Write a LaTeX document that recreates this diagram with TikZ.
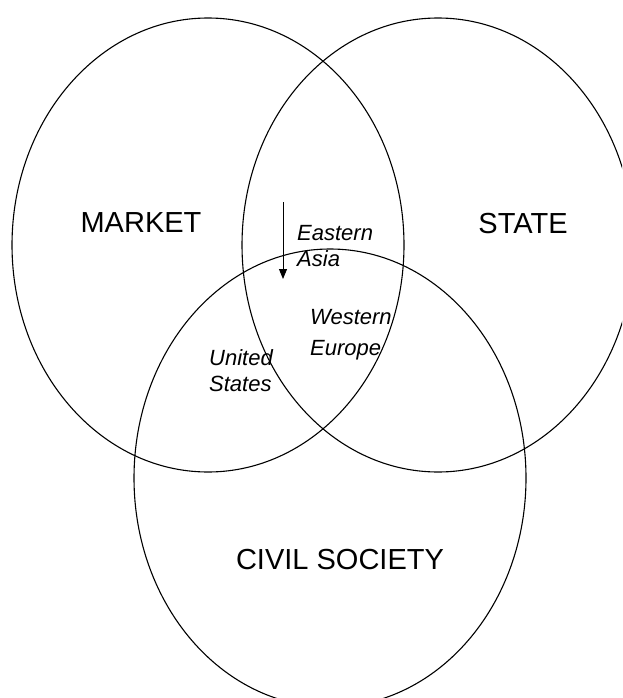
\documentclass[tikz,border=0pt]{standalone}
\usepackage{fontspec}
\setmainfont{Liberation Sans}
\usepackage{tikz}
\usetikzlibrary{shapes,arrows.meta,positioning,calc}

\tikzset{sector/.style={
    draw,
    ellipse,
    line width=1.1pt,
    inner sep=0pt,
    minimum width=392pt,
    minimum height=454pt,
  }}

\begin{document}
\begin{tikzpicture}[x=1pt,y=-1pt,
        bigtext/.style={inner sep=0pt,anchor=base,
          font=\fontsize{29}{34}\selectfont},
        region/.style={inner sep=0pt,anchor=north west,align=left,
          font=\fontsize{22}{26}\selectfont\itshape}
        ]

        \useasboundingbox (0,0) rectangle (622,698);
        \clip (0,0) rectangle (622,698);

        % Ellipses
        \node (market) [sector] at (208,245) {};
        \node (state) [sector] at (438,245) {};
        \node (civil) [sector,minimum height=458pt] at (330,478) {};

        % Sector names
        \node (marketname) [bigtext] at (141,232) {MARKET};
        \node (statename) [bigtext] at (523,233) {STATE};
        \node (civilname) [bigtext] at (340,569) {CIVIL SOCIETY};

        % Regions
        \node (asia) [region] at (297,225) {Eastern\\Asia};
        \node (europe) [region] at (310,309) {Western\\[5pt]Europe};
        \node (us) [region] at (209,349) {United\\States};

        \coordinate (shifttop) at (283,202);
        \coordinate (shiftend) at (283,279);
        \draw [-{Triangle[length=10pt,width=8pt]},line width=0.9pt] (shifttop) -- (shiftend);

      \end{tikzpicture}
\end{document}
